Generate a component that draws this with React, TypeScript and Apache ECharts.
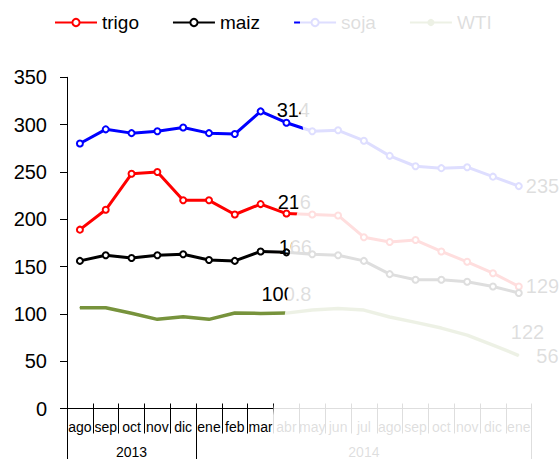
import React, { useEffect, useRef } from 'react';
import * as echarts from 'echarts';

const months = ['ago', 'sep', 'oct', 'nov', 'dic', 'ene', 'feb', 'mar', 'abr', 'may', 'jun', 'jul', 'ago', 'sep', 'oct', 'nov', 'dic', 'ene'];
const yearLabels = ['', '', '2013', '', '', '', '', '', '', '', '', '2014', '', '', '', '', '', ''];
const yearStarts = [0, 5];

const trigo = [189, 210, 248, 250, 220, 220, 205, 216, 206, 205, 204, 181, 176, 178, 166, 155, 143, 129];
const maiz = [156, 162, 159, 162, 163, 157, 156, 166, 165, 163, 162, 156, 142, 136, 136, 134, 129, 122];
const soja = [280, 295, 291, 293, 297, 291, 290, 314, 302, 293, 294, 283, 267, 256, 254, 255, 245, 235];
const wti = [106.5, 106.5, 100.6, 94.2, 97, 94.2, 100.9, 100.5, 100.8, 104, 105.7, 104, 96.7, 91, 85, 77.6, 67, 56];

const FONT = '"Liberation Sans", Arial, sans-serif';

// pixel polygon of the faded (wipe) region
const fadePoints = [
  [300, 0], [300, 110], [304, 135], [299, 205], [296, 218], [290, 250], [288, 295], [285, 313], [273.5, 408], [270, 459], [559, 459], [559, 0],
];

function withLabels(values: number[], labels: Record<number, any>) {
  return values.map((v, i) =>
    labels[i]
      ? { value: v, label: { show: true, color: '#000', fontSize: 20, fontFamily: FONT, ...labels[i] } }
      : v
  );
}

export default function App() {
  const ref = useRef<HTMLDivElement>(null);
  useEffect(() => {
    document.body.style.margin = '0';
    const chart = echarts.init(ref.current!, null, { renderer: 'svg' });
    const last = months.length - 1;
    chart.setOption({
      animation: false,
      backgroundColor: '#fff',
      textStyle: { fontFamily: FONT },
      legend: {
        left: 54,
        top: 13,
        padding: 0,
        itemWidth: 42,
        itemHeight: 9,
        itemGap: 33,
        textStyle: { fontSize: 19, color: '#000', fontFamily: FONT },
        data: ['trigo', 'maiz', 'soja', 'WTI'],
      },
      grid: { left: 67, right: 27.3, top: 77.3, bottom: 50.5, containLabel: false },
      xAxis: [
        {
          type: 'category',
          data: months,
          position: 'bottom',
          boundaryGap: true,
          axisLine: { show: true, lineStyle: { color: '#000', width: 1 } },
          axisTick: { show: true, interval: 0, length: 25, lineStyle: { color: '#000' } },
          axisLabel: { interval: 0, margin: 11, fontSize: 14, color: '#000', fontFamily: FONT },
          splitLine: { show: false },
        },
        {
          type: 'category',
          data: months,
          position: 'bottom',
          boundaryGap: true,
          axisLine: { show: false },
          axisTick: { show: true, inside: true, interval: 0, length: 5, lineStyle: { color: '#000' } },
          axisLabel: { show: false },
          splitLine: { show: false },
        },
        {
          type: 'category',
          data: yearLabels,
          position: 'bottom',
          boundaryGap: true,
          axisLine: { show: false },
          axisTick: {
            show: true,
            length: 51,
            interval: (idx: number) => yearStarts.indexOf(idx) >= 0,
            lineStyle: { color: '#000' },
          },
          axisLabel: { interval: 0, margin: 36, fontSize: 14, color: '#000', fontFamily: FONT },
          splitLine: { show: false },
        },
      ],
      yAxis: {
        type: 'value',
        min: 0,
        max: 350,
        interval: 50,
        axisLine: { show: true, lineStyle: { color: '#000', width: 1 } },
        axisTick: { show: true, length: 7, lineStyle: { color: '#000' } },
        axisLabel: { margin: 20, fontSize: 20, color: '#000', fontFamily: FONT },
        splitLine: { show: false },
      },
      series: [
        {
          name: 'trigo',
          type: 'line',
          xAxisIndex: 0,
          color: '#FF0000',
          lineStyle: { width: 3 },
          symbol: 'emptyCircle',
          symbolSize: 6,
          itemStyle: { borderWidth: 1.5 },
          data: withLabels(trigo, {
            7: { position: 'right', distance: 13, offset: [0, -2] },
            [last]: { position: 'right', distance: 3 },
          }),
        },
        {
          name: 'maiz',
          type: 'line',
          xAxisIndex: 0,
          color: '#000000',
          lineStyle: { width: 3 },
          symbol: 'emptyCircle',
          symbolSize: 6,
          itemStyle: { borderWidth: 1.5 },
          data: withLabels(maiz, {
            7: { position: 'right', distance: 14, offset: [0, -4] },
            [last]: { position: 'right', distance: 0, offset: [-12, 39] },
          }),
        },
        {
          name: 'soja',
          type: 'line',
          xAxisIndex: 0,
          color: '#0000FF',
          lineStyle: { width: 3 },
          symbol: 'emptyCircle',
          symbolSize: 6,
          itemStyle: { borderWidth: 1.5 },
          data: withLabels(soja, {
            7: { position: 'right', distance: 12, offset: [0, -1] },
            [last]: { position: 'right', distance: 3 },
          }),
        },
        {
          name: 'WTI',
          type: 'line',
          xAxisIndex: 0,
          color: '#77933C',
          lineStyle: { width: 3.5 },
          symbol: 'circle',
          symbolSize: 1,
          data: withLabels(wti, {
            8: { position: 'top', distance: 9 },
            [last]: { position: 'right', distance: 17 },
          }),
        },
      ],
      graphic: [
        {
          type: 'polygon',
          z: 100,
          silent: true,
          shape: { points: fadePoints },
          style: { fill: 'rgba(255,255,255,0.87)' },
        },
      ],
    });
    return () => chart.dispose();
  }, []);
  return <div ref={ref} style={{ width: 559, height: 459 }} />;
}
